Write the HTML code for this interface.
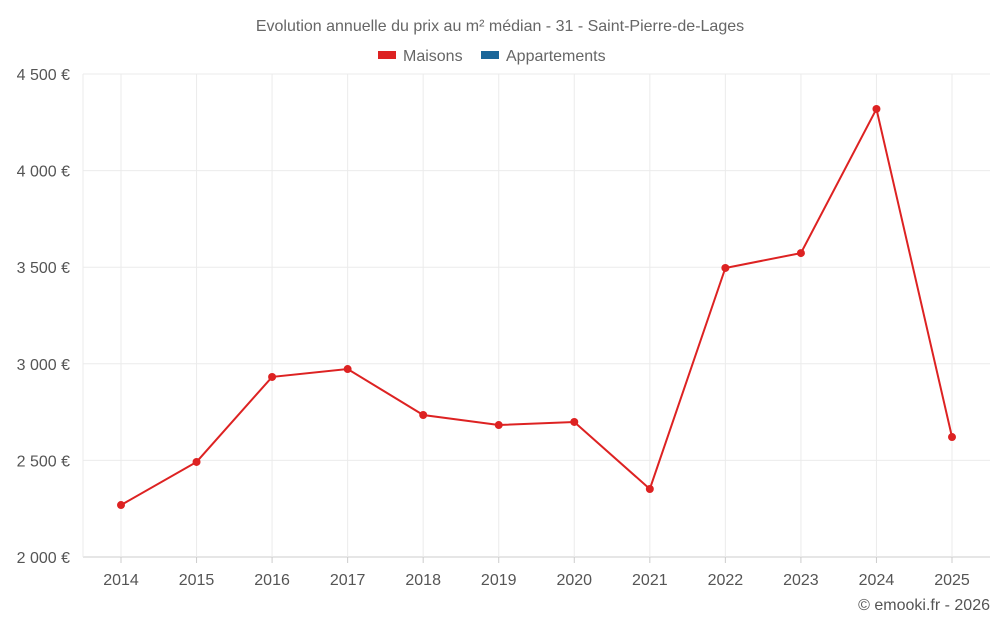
<!DOCTYPE html>
<html><head><meta charset="utf-8"><style>
html,body{margin:0;padding:0;background:#fff;}
svg text{font-family:"Liberation Sans",sans-serif;}
</style></head><body>
<svg id="chart" width="1000" height="625" xmlns="http://www.w3.org/2000/svg">
<text x="500" y="31" text-anchor="middle" font-size="16" fill="#666">Evolution annuelle du prix au m² médian - 31 - Saint-Pierre-de-Lages</text>
<g>
<g><rect x="378" y="51" width="18" height="8" fill="#dd2222"/><text x="403" y="61" font-size="16" fill="#666">Maisons</text></g>
<g><rect x="481" y="51" width="18" height="8" fill="#1a6699"/><text x="506" y="61" font-size="16" fill="#666">Appartements</text></g>
</g>
<g id="grid"></g>
<g id="axes"></g>
<g id="series"></g>
<text x="990" y="610" text-anchor="end" font-size="16" fill="#555">© emooki.fr - 2026</text>
</svg>
<script>
const years = ["2014","2015","2016","2017","2018","2019","2020","2021","2022","2023","2024","2025"];
const maisons = [2269,2492,2932,2973,2735,2683,2699,2352,3496,3573,4319,2621];
const yTicks = [2000,2500,3000,3500,4000,4500];
const yTickLabels = ["2 000 €","2 500 €","3 000 €","3 500 €","4 000 €","4 500 €"];

const NS="http://www.w3.org/2000/svg";
const plotLeft=83,plotRight=990,plotTop=74,plotBottom=557,yMin=2000,yMax=4500;
const x0=121,x1=952;
function xs(i){return x0+(x1-x0)*i/(years.length-1);}
function ys(v){return plotBottom-(v-yMin)/(yMax-yMin)*(plotBottom-plotTop);}
function mk(tag,attrs,parent){const e=document.createElementNS(NS,tag);for(const k in attrs)e.setAttribute(k,attrs[k]);parent.appendChild(e);return e;}
const gridG=document.getElementById('grid'),axesG=document.getElementById('axes'),seriesG=document.getElementById('series');

yTicks.forEach((t,i)=>{
  const l=mk('line',{x1:plotLeft,x2:plotRight,y1:ys(t),y2:ys(t),stroke:i===0?'#ccc':'#ebebeb','stroke-width':1},gridG);
  
  
  const tx=mk('text',{x:70,y:ys(t)+6,'text-anchor':'end','font-size':16,fill:'#555'},axesG);
  tx.textContent=yTickLabels[i];
  
  
});
const le=mk('line',{x1:plotLeft,x2:plotLeft,y1:plotTop,y2:plotBottom,stroke:'#ebebeb'},gridG);


years.forEach((y,i)=>{
  const l=mk('line',{x1:xs(i),x2:xs(i),y1:plotTop,y2:plotBottom,stroke:'#ebebeb'},gridG);
  
  
  const tk=mk('line',{x1:xs(i),x2:xs(i),y1:plotBottom,y2:plotBottom+6,stroke:'#ccc'},axesG);
  
  
  const tx=mk('text',{x:xs(i),y:585,'text-anchor':'middle','font-size':16,fill:'#555'},axesG);
  tx.textContent=y;
  
  
});
const pts=maisons.map((v,i)=>xs(i)+','+ys(v)).join(' ');
const pl=mk('polyline',{points:pts,fill:'none',stroke:'#dd2222','stroke-width':2},seriesG);


maisons.forEach((v,i)=>{
  const c=mk('circle',{cx:xs(i),cy:ys(v),r:4,fill:'#dd2222'},seriesG);
  
  
});
</script>
</body></html>
